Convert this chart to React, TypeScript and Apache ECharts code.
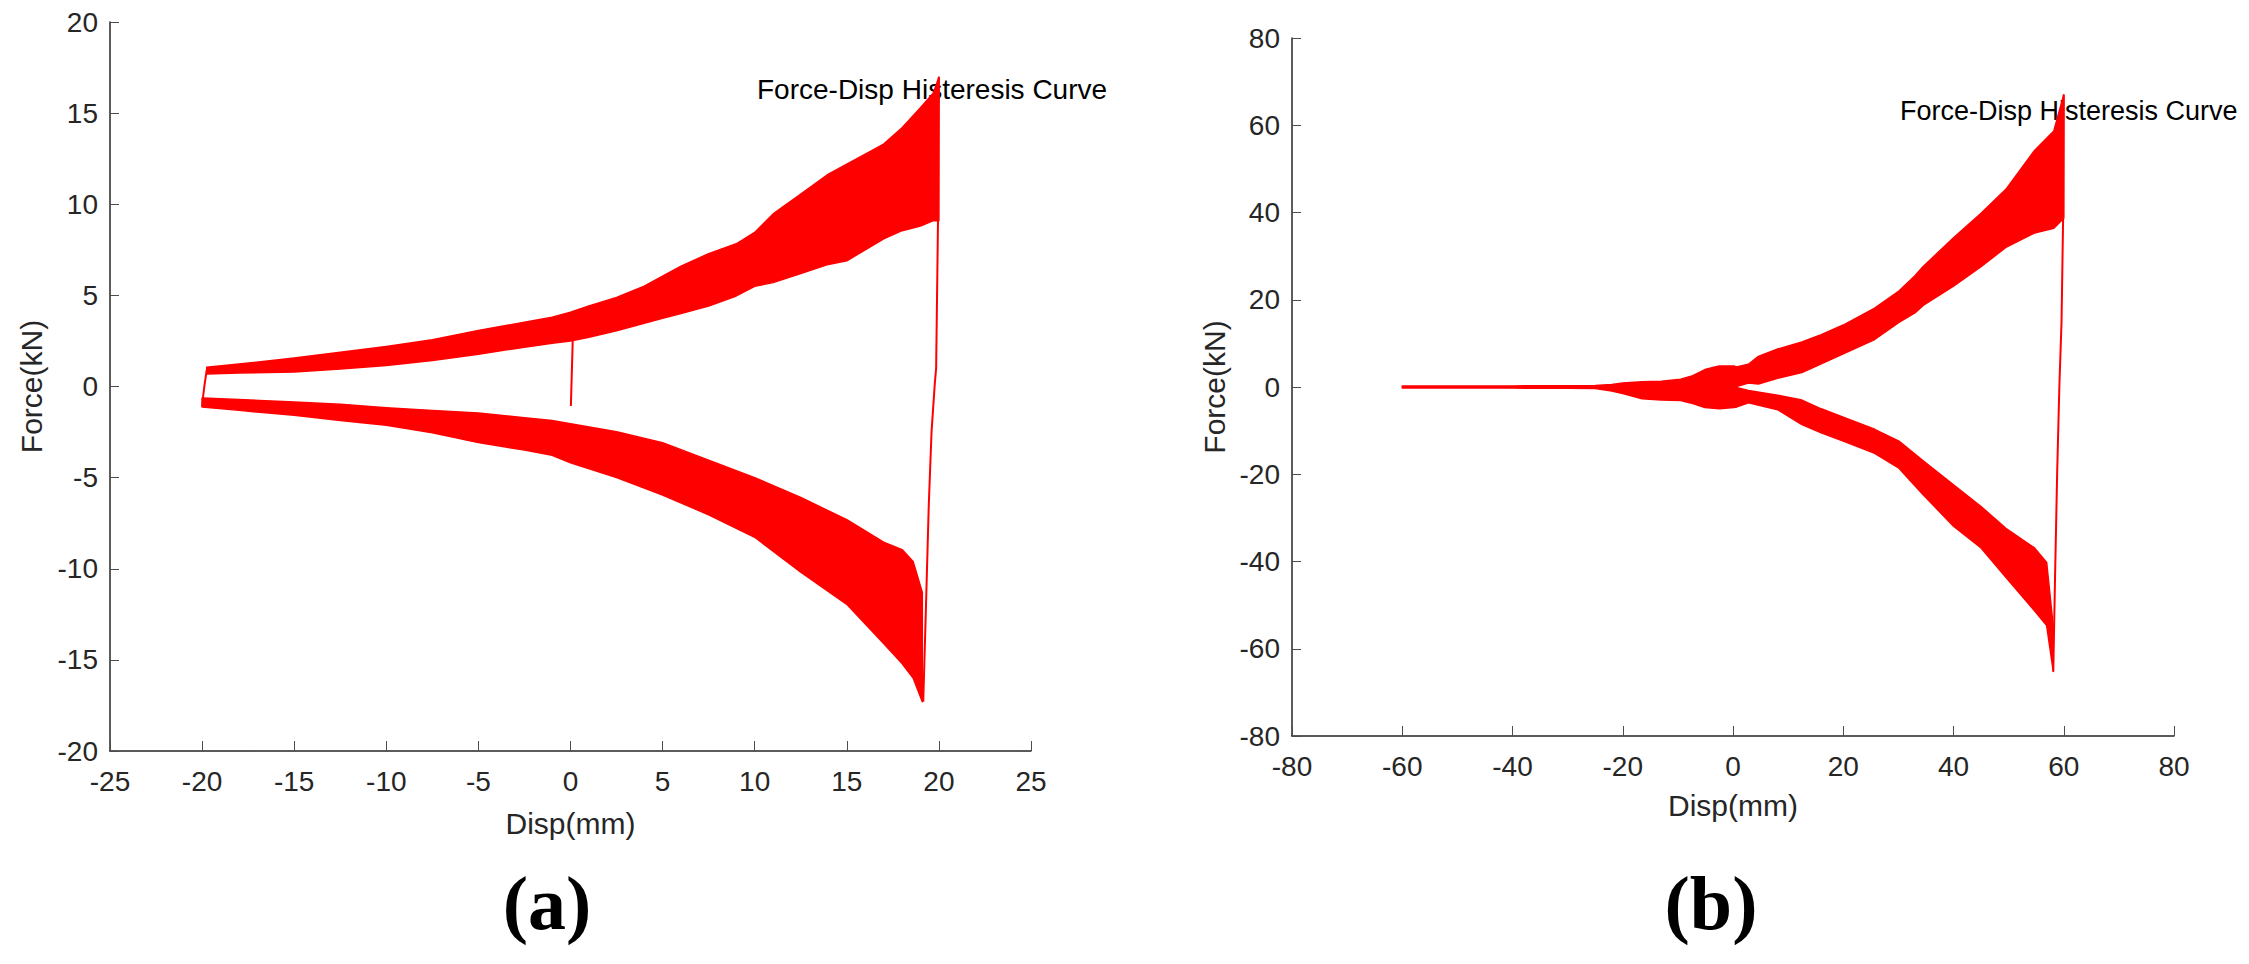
import React, { useEffect, useRef } from "react";
import * as echarts from "echarts";

// ---------- Panel (a) data ----------
const aUpperX = [-19.75, -18, -15, -12.5, -10, -7.5, -5, -2.5, -1, 0, 1, 2.5, 4, 5, 6, 7.5, 9, 10, 11, 12.5, 14, 15, 16, 17, 18, 19, 19.7, 20];
const aUpperTop = [1.06, 1.23, 1.56, 1.88, 2.2, 2.57, 3.08, 3.52, 3.8, 4.07, 4.42, 4.89, 5.5, 6.06, 6.6, 7.29, 7.83, 8.45, 9.47, 10.56, 11.65, 12.2, 12.75, 13.3, 14.2, 15.3, 16.1, 16.98];
const aUpperBot = [0.68, 0.74, 0.79, 0.96, 1.15, 1.42, 1.77, 2.16, 2.37, 2.5, 2.7, 3.06, 3.47, 3.74, 4.0, 4.42, 4.97, 5.5, 5.7, 6.2, 6.7, 6.9, 7.5, 8.1, 8.55, 8.8, 9.1, 9.1];

const aLowerX = [-20, -18, -15, -12.5, -10, -7.5, -5, -2.5, -1, 0, 2.5, 5, 7.5, 10, 12.5, 15, 17, 18, 18.6, 19.1];
const aLowerTop = [-0.63, -0.71, -0.85, -0.98, -1.17, -1.31, -1.45, -1.72, -1.86, -2.05, -2.48, -3.08, -4.04, -5.0, -6.09, -7.31, -8.54, -8.95, -9.6, -11.3];
const aLowerBot = [-1.12, -1.31, -1.58, -1.86, -2.13, -2.54, -3.08, -3.49, -3.77, -4.18, -5.0, -5.95, -7.04, -8.27, -10.18, -11.95, -14.1, -15.2, -16.0, -17.3];

const aReturnLine = [[20, 16.98], [19.95, 9.0], [19.85, 1.0], [19.78, 0.2], [19.6, -2.5], [19.45, -6.5], [19.3, -12], [19.15, -17.3]];
const aStartLine = [[-20, -1.12], [-19.95, -0.6], [-19.88, 0.0], [-19.75, 0.9]];
const aSpikeLine = [[0.02, -1.07], [0.12, 2.5]];

// ---------- Panel (b) data ----------
const bLeftX = [-60, -40, -30, -25, -22, -20, -16.5, -13, -9.5, -7.3, -5.1, -2.5, 0.2, 0.6];
const bLeftTop = [0.25, 0.25, 0.3, 0.35, 0.6, 0.9, 1.2, 1.3, 1.8, 2.6, 4.0, 4.8, 4.8, 4.6];
const bLeftBot = [-0.25, -0.25, -0.3, -0.35, -0.9, -1.5, -2.7, -3.0, -3.1, -3.8, -4.7, -5.0, -4.7, -4.6];

const bUpperX = [0.6, 2.8, 4.6, 8.1, 12.5, 16, 20, 25.7, 30.1, 33, 34.5, 40, 45, 49.5, 54.7, 58.2, 60];
const bUpperTop = [4.6, 5.2, 7.0, 8.7, 10.3, 12.0, 14.2, 18.1, 22.0, 25.5, 27.6, 34.2, 39.8, 45.3, 54.2, 58.7, 67.0];
const bUpperBot = [0.1, 0.9, 0.7, 2.0, 3.3, 5.3, 7.6, 10.9, 14.8, 17.0, 18.7, 23.1, 27.6, 32.0, 35.3, 36.4, 38.7];

const bLowerX = [0.6, 2.8, 8.1, 12.5, 16, 20, 25.7, 30.1, 34.5, 40, 45, 49.5, 54.7, 56.9, 58.1];
const bLowerTop = [-0.1, -0.8, -1.9, -3.0, -5.0, -6.9, -9.7, -12.4, -16.9, -22.4, -27.4, -32.4, -36.9, -40.2, -55.0];
const bLowerBot = [-4.6, -3.6, -5.2, -8.6, -10.5, -12.4, -15.2, -18.6, -24.7, -31.9, -36.9, -43.6, -51.3, -54.7, -65.2];

const bReturnLine = [[60, 67.0], [59.9, 40], [59.6, 15], [59.2, 0], [58.8, -20], [58.4, -45], [58.1, -65.2]];

// ---------- Axis ticks ----------
const aXTicks = { min: -25, max: 25, interval: 5 };
const aYTicks = { min: -20, max: 20, interval: 5 };
const bXTicks = { min: -80, max: 80, interval: 20 };
const bYTicks = { min: -80, max: 80, interval: 20 };

const TITLE_TEXT = "Force-Disp Histeresis Curve";
const X_NAME = "Disp(mm)";
const Y_NAME = "Force(kN)";

const SANS = '"Liberation Sans", Arial, Helvetica, sans-serif';
const SERIF = '"Liberation Serif", "Times New Roman", serif';
const RED = "#ff0000";
const AXIS_COLOR = "#262626";

type Band = { x: number[]; top: number[]; bot: number[] };

const bandsA: Band[] = [
  { x: aUpperX, top: aUpperTop, bot: aUpperBot },
  { x: aLowerX, top: aLowerTop, bot: aLowerBot },
];
const bandsB: Band[] = [
  { x: bLeftX, top: bLeftTop, bot: bLeftBot },
  { x: bUpperX, top: bUpperTop, bot: bUpperBot },
  { x: bLowerX, top: bLowerTop, bot: bLowerBot },
];

function bandSeries(bands: Band[], idx: number) {
  return {
    type: "custom",
    xAxisIndex: idx,
    yAxisIndex: idx,
    silent: true,
    data: bands.map((b, i) => [b.x[0], b.top[0], i]),
    renderItem: (params: any, api: any) => {
      const b = bands[params.dataIndex];
      const pts: number[][] = [];
      for (let i = 0; i < b.x.length; i++) pts.push(api.coord([b.x[i], b.top[i]]));
      for (let i = b.x.length - 1; i >= 0; i--) pts.push(api.coord([b.x[i], b.bot[i]]));
      return {
        type: "polygon",
        shape: { points: pts },
        style: { fill: RED, stroke: RED, lineWidth: 1.5, lineJoin: "round" },
      };
    },
  };
}

function lineSeries(data: number[][], idx: number) {
  return {
    type: "line",
    xAxisIndex: idx,
    yAxisIndex: idx,
    data,
    showSymbol: false,
    symbol: "none",
    silent: true,
    lineStyle: { color: RED, width: 2 },
  };
}

function xAxis(idx: number, t: any, nameGap: number) {
  return {
    type: "value",
    gridIndex: idx,
    min: t.min,
    max: t.max,
    interval: t.interval,
    position: "bottom",
    name: X_NAME,
    nameLocation: "middle",
    nameGap,
    nameTextStyle: { fontSize: 30, color: AXIS_COLOR, fontFamily: SANS },
    axisLine: { show: true, onZero: false, lineStyle: { color: AXIS_COLOR, width: 1.5 } },
    axisTick: { show: true, inside: true, length: 10, lineStyle: { color: "#4d4d4d", width: 1 } },
    axisLabel: { fontSize: 28, color: AXIS_COLOR, fontFamily: SANS, margin: 16 },
    splitLine: { show: false },
  };
}

function yAxis(idx: number, t: any, nameGap: number) {
  return {
    type: "value",
    gridIndex: idx,
    min: t.min,
    max: t.max,
    interval: t.interval,
    position: "left",
    name: Y_NAME,
    nameLocation: "middle",
    nameGap,
    nameRotate: 90,
    nameTextStyle: { fontSize: 30, color: AXIS_COLOR, fontFamily: SANS },
    axisLine: { show: true, onZero: false, lineStyle: { color: AXIS_COLOR, width: 1.5 } },
    axisTick: { show: true, inside: true, length: 9, lineStyle: { color: "#4d4d4d", width: 1 } },
    axisLabel: { fontSize: 28, color: AXIS_COLOR, fontFamily: SANS, margin: 12 },
    splitLine: { show: false },
  };
}

export default function App() {
  const ref = useRef<HTMLDivElement>(null);

  useEffect(() => {
    if (!ref.current) return;
    const chart = echarts.init(ref.current, undefined, { renderer: "svg" });
    chart.setOption({
      animation: false,
      backgroundColor: "#ffffff",
      grid: [
        { left: 110, top: 22, width: 921, height: 729, containLabel: false },
        { left: 1292, top: 38, width: 882, height: 698, containLabel: false },
      ],
      xAxis: [xAxis(0, aXTicks, 57), xAxis(1, bXTicks, 54)],
      yAxis: [yAxis(0, aYTicks, 64), yAxis(1, bYTicks, 63)],
      series: [
        bandSeries(bandsA, 0),
        lineSeries(aReturnLine, 0),
        lineSeries(aStartLine, 0),
        lineSeries(aSpikeLine, 0),
        bandSeries(bandsB, 1),
        lineSeries(bReturnLine, 1),
      ],
      graphic: [
        {
          type: "text",
          x: 757,
          y: 89,
          silent: true,
          style: { text: TITLE_TEXT, font: `28px ${SANS}`, fill: "#000000", align: "left", verticalAlign: "middle" },
        },
        {
          type: "text",
          x: 1900,
          y: 110.5,
          silent: true,
          style: { text: TITLE_TEXT, font: `27px ${SANS}`, fill: "#000000", align: "left", verticalAlign: "middle" },
        },
        {
          type: "text",
          x: 547,
          y: 903,
          silent: true,
          style: { text: "(a)", font: `bold 76px ${SERIF}`, fill: "#000000", align: "center", verticalAlign: "middle" },
        },
        {
          type: "text",
          x: 1711,
          y: 903,
          silent: true,
          style: { text: "(b)", font: `bold 76px ${SERIF}`, fill: "#000000", align: "center", verticalAlign: "middle" },
        },
      ],
    });
    return () => chart.dispose();
  }, []);

  return (
    <div
      ref={ref}
      style={{ position: "fixed", left: 0, top: 0, width: "2249px", height: "964px", background: "#ffffff" }}
    />
  );
}
